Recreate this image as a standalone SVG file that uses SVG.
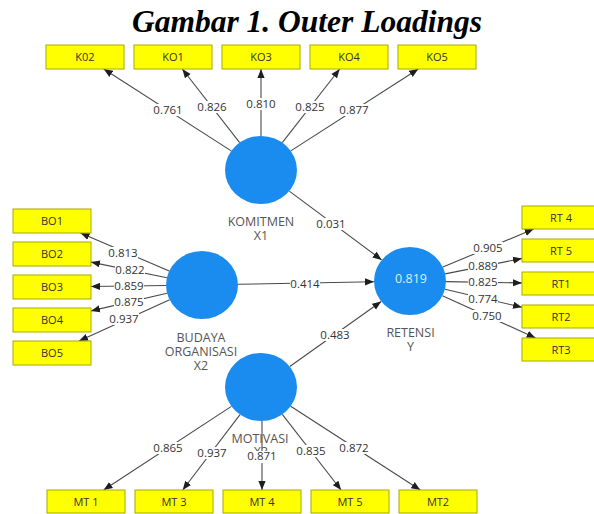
<svg xmlns="http://www.w3.org/2000/svg" width="594" height="514" viewBox="0 0 594 514">
<defs>
<style>
.title{font-family:"Liberation Serif","Times New Roman",serif;font-weight:bold;font-style:italic;font-size:31.5px;fill:#000}
.lat{fill:#1a8cf0}
.latlbl{font-family:"Open Sans","Noto Sans",sans-serif;font-size:12.5px;fill:#555;text-anchor:middle}
.r2{font-family:"Open Sans","Noto Sans",sans-serif;font-size:12.5px;fill:#dcefff;text-anchor:middle}
.box{fill:#ffff00;stroke:#a9a900;stroke-width:1}
.boxtxt{font-family:"Open Sans","Noto Sans",sans-serif;font-size:11px;fill:#333;text-anchor:middle}
.ln{stroke:#4a4a4a;stroke-width:1.1;fill:none;marker-end:url(#ah)}
.wbg{fill:#fff}
.wt{font-family:"Open Sans","Noto Sans",sans-serif;font-size:11.5px;fill:#333;text-anchor:middle}
</style>
<marker id="ah" viewBox="0 0 10 8" refX="10" refY="4" markerWidth="9" markerHeight="7.5" markerUnits="userSpaceOnUse" orient="auto">
<path d="M0,0 L10,4 L0,8 z" fill="#1e1e1e"/>
</marker>
</defs>
<rect x="0" y="0" width="594" height="514" fill="#fff"/>
<text class="title" x="307" y="32" text-anchor="middle">Gambar 1. Outer Loadings</text>

<g id="connectors">
<line class="ln" x1="231.2" y1="150.9" x2="103.7" y2="69"/>
<line class="ln" x1="239.7" y1="142.6" x2="182.3" y2="69"/>
<line class="ln" x1="261" y1="136" x2="261" y2="69"/>
<line class="ln" x1="282.3" y1="142.6" x2="339.7" y2="69"/>
<line class="ln" x1="290.8" y1="150.9" x2="418.3" y2="69"/>

<line class="ln" x1="169.2" y1="271" x2="80.5" y2="233"/>
<line class="ln" x1="166.9" y1="277.7" x2="91" y2="262.1"/>
<line class="ln" x1="166" y1="285.5" x2="91" y2="286.5"/>
<line class="ln" x1="167" y1="293.2" x2="91" y2="310.9"/>
<line class="ln" x1="169.6" y1="299.7" x2="79" y2="341"/>

<line class="ln" x1="442.9" y1="267.1" x2="533.7" y2="229"/>
<line class="ln" x1="445.2" y1="273.9" x2="522" y2="258.4"/>
<line class="ln" x1="446" y1="281.6" x2="522" y2="282.9"/>
<line class="ln" x1="445" y1="289.2" x2="522" y2="307.3"/>
<line class="ln" x1="442.4" y1="295.7" x2="535.6" y2="338"/>

<line class="ln" x1="231.4" y1="406.4" x2="103.6" y2="490"/>
<line class="ln" x1="240" y1="414.6" x2="182.7" y2="490"/>
<line class="ln" x1="262" y1="421" x2="262" y2="490"/>
<line class="ln" x1="282.3" y1="414.4" x2="341.1" y2="490"/>
<line class="ln" x1="290.7" y1="406.2" x2="420.3" y2="490"/>

<line class="ln" x1="289.3" y1="191.1" x2="381.7" y2="259.9"/>
<line class="ln" x1="238" y1="284.3" x2="374" y2="281.7"/>
<line class="ln" x1="289.8" y1="366.5" x2="381.2" y2="301.5"/>
</g>

<g id="KOMITMEN">
<ellipse class="lat" cx="261" cy="170" rx="36" ry="34"/>
<text class="latlbl" x="261" y="225.5">KOMITMEN</text>
<text class="latlbl" x="261" y="239.5">X1</text>
</g>
<g id="BUDAYA">
<ellipse class="lat" cx="202" cy="285" rx="36" ry="34"/>
<text class="latlbl" x="201" y="341.5">BUDAYA</text>
<text class="latlbl" x="201" y="355.5">ORGANISASI</text>
<text class="latlbl" x="201" y="369.5">X2</text>
</g>
<g id="RETENSI">
<ellipse class="lat" cx="410" cy="281" rx="36" ry="34"/>
<text class="r2" x="411" y="282.5">0.819</text>
<text class="latlbl" x="410.5" y="336.5">RETENSI</text>
<text class="latlbl" x="410.5" y="351">Y</text>
</g>
<g id="MOTIVASI">
<ellipse class="lat" cx="261" cy="387" rx="36" ry="34"/>
<text class="latlbl" x="260" y="442.5">MOTIVASI</text>
<text class="latlbl" x="261" y="456">X3</text>
</g>

<g id="K02"><rect class="box" x="46" y="45" width="78" height="24"/><text class="boxtxt" x="85" y="61">K02</text></g>
<g id="KO1"><rect class="box" x="134" y="45" width="78" height="24"/><text class="boxtxt" x="173" y="61">KO1</text></g>
<g id="KO3"><rect class="box" x="222" y="45" width="78" height="24"/><text class="boxtxt" x="261" y="61">KO3</text></g>
<g id="KO4"><rect class="box" x="310" y="45" width="78" height="24"/><text class="boxtxt" x="349" y="61">KO4</text></g>
<g id="KO5"><rect class="box" x="398" y="45" width="78" height="24"/><text class="boxtxt" x="437" y="61">KO5</text></g>

<g id="BO1"><rect class="box" x="13" y="209" width="78" height="24"/><text class="boxtxt" x="52" y="225">BO1</text></g>
<g id="BO2"><rect class="box" x="13" y="242" width="78" height="24"/><text class="boxtxt" x="52" y="258">BO2</text></g>
<g id="BO3"><rect class="box" x="13" y="275" width="78" height="24"/><text class="boxtxt" x="52" y="291">BO3</text></g>
<g id="BO4"><rect class="box" x="13" y="308" width="78" height="24"/><text class="boxtxt" x="52" y="324">BO4</text></g>
<g id="BO5"><rect class="box" x="13" y="341" width="78" height="24"/><text class="boxtxt" x="52" y="357">BO5</text></g>

<g id="RT4"><rect class="box" x="522" y="206" width="78" height="23"/><text class="boxtxt" x="561" y="221.5">RT 4</text></g>
<g id="RT5"><rect class="box" x="522" y="239" width="78" height="23"/><text class="boxtxt" x="561" y="254.5">RT 5</text></g>
<g id="RT1"><rect class="box" x="522" y="272" width="78" height="23"/><text class="boxtxt" x="561" y="287.5">RT1</text></g>
<g id="RT2"><rect class="box" x="522" y="305" width="78" height="23"/><text class="boxtxt" x="561" y="320.5">RT2</text></g>
<g id="RT3"><rect class="box" x="522" y="338" width="78" height="23"/><text class="boxtxt" x="561" y="353.5">RT3</text></g>

<g id="MT1"><rect class="box" x="47" y="490" width="78" height="23"/><text class="boxtxt" x="86" y="505.5">MT 1</text></g>
<g id="MT3"><rect class="box" x="135" y="490" width="78" height="23"/><text class="boxtxt" x="174" y="505.5">MT 3</text></g>
<g id="MT4"><rect class="box" x="223" y="490" width="78" height="23"/><text class="boxtxt" x="262" y="505.5">MT 4</text></g>
<g id="MT5"><rect class="box" x="311" y="490" width="78" height="23"/><text class="boxtxt" x="350" y="505.5">MT 5</text></g>
<g id="MT2"><rect class="box" x="399" y="490" width="78" height="23"/><text class="boxtxt" x="438" y="505.5">MT2</text></g>

<g id="connector-labels">
<rect class="wbg" x="153" y="104" width="30" height="12"/><text class="wt" x="168" y="114">0.761</text>
<rect class="wbg" x="197" y="101" width="30" height="12"/><text class="wt" x="212" y="111">0.826</text>
<rect class="wbg" x="246" y="98" width="30" height="12"/><text class="wt" x="261" y="108">0.810</text>
<rect class="wbg" x="295" y="101" width="30" height="12"/><text class="wt" x="310" y="111">0.825</text>
<rect class="wbg" x="339" y="104" width="30" height="12"/><text class="wt" x="354" y="114">0.877</text>

<rect class="wbg" x="108" y="247" width="30" height="12"/><text class="wt" x="123" y="257">0.813</text>
<rect class="wbg" x="115" y="264" width="30" height="12"/><text class="wt" x="130" y="274">0.822</text>
<rect class="wbg" x="114" y="280" width="30" height="12"/><text class="wt" x="129" y="290">0.859</text>
<rect class="wbg" x="114" y="296" width="30" height="12"/><text class="wt" x="129" y="306">0.875</text>
<rect class="wbg" x="109" y="313" width="30" height="12"/><text class="wt" x="124" y="323">0.937</text>

<rect class="wbg" x="473" y="242" width="30" height="12"/><text class="wt" x="488" y="252">0.905</text>
<rect class="wbg" x="468" y="260" width="30" height="12"/><text class="wt" x="483" y="270">0.889</text>
<rect class="wbg" x="468" y="276" width="30" height="12"/><text class="wt" x="483" y="286">0.825</text>
<rect class="wbg" x="468" y="293" width="30" height="12"/><text class="wt" x="483" y="303">0.774</text>
<rect class="wbg" x="472" y="310" width="30" height="12"/><text class="wt" x="487" y="320">0.750</text>

<rect class="wbg" x="153" y="442" width="30" height="12"/><text class="wt" x="168" y="452">0.865</text>
<rect class="wbg" x="197" y="447" width="30" height="12"/><text class="wt" x="212" y="457">0.937</text>
<rect class="wbg" x="247" y="451" width="30" height="12"/><text class="wt" x="262" y="460">0.871</text>
<rect class="wbg" x="296" y="445" width="30" height="12"/><text class="wt" x="311" y="455">0.835</text>
<rect class="wbg" x="339" y="442" width="30" height="12"/><text class="wt" x="354" y="452">0.872</text>

<rect class="wbg" x="316" y="218" width="30" height="12"/><text class="wt" x="331" y="228">0.031</text>
<rect class="wbg" x="290" y="278" width="30" height="12"/><text class="wt" x="305" y="288">0.414</text>
<rect class="wbg" x="320" y="329" width="30" height="12"/><text class="wt" x="335" y="339">0.483</text>
</g>
</svg>
